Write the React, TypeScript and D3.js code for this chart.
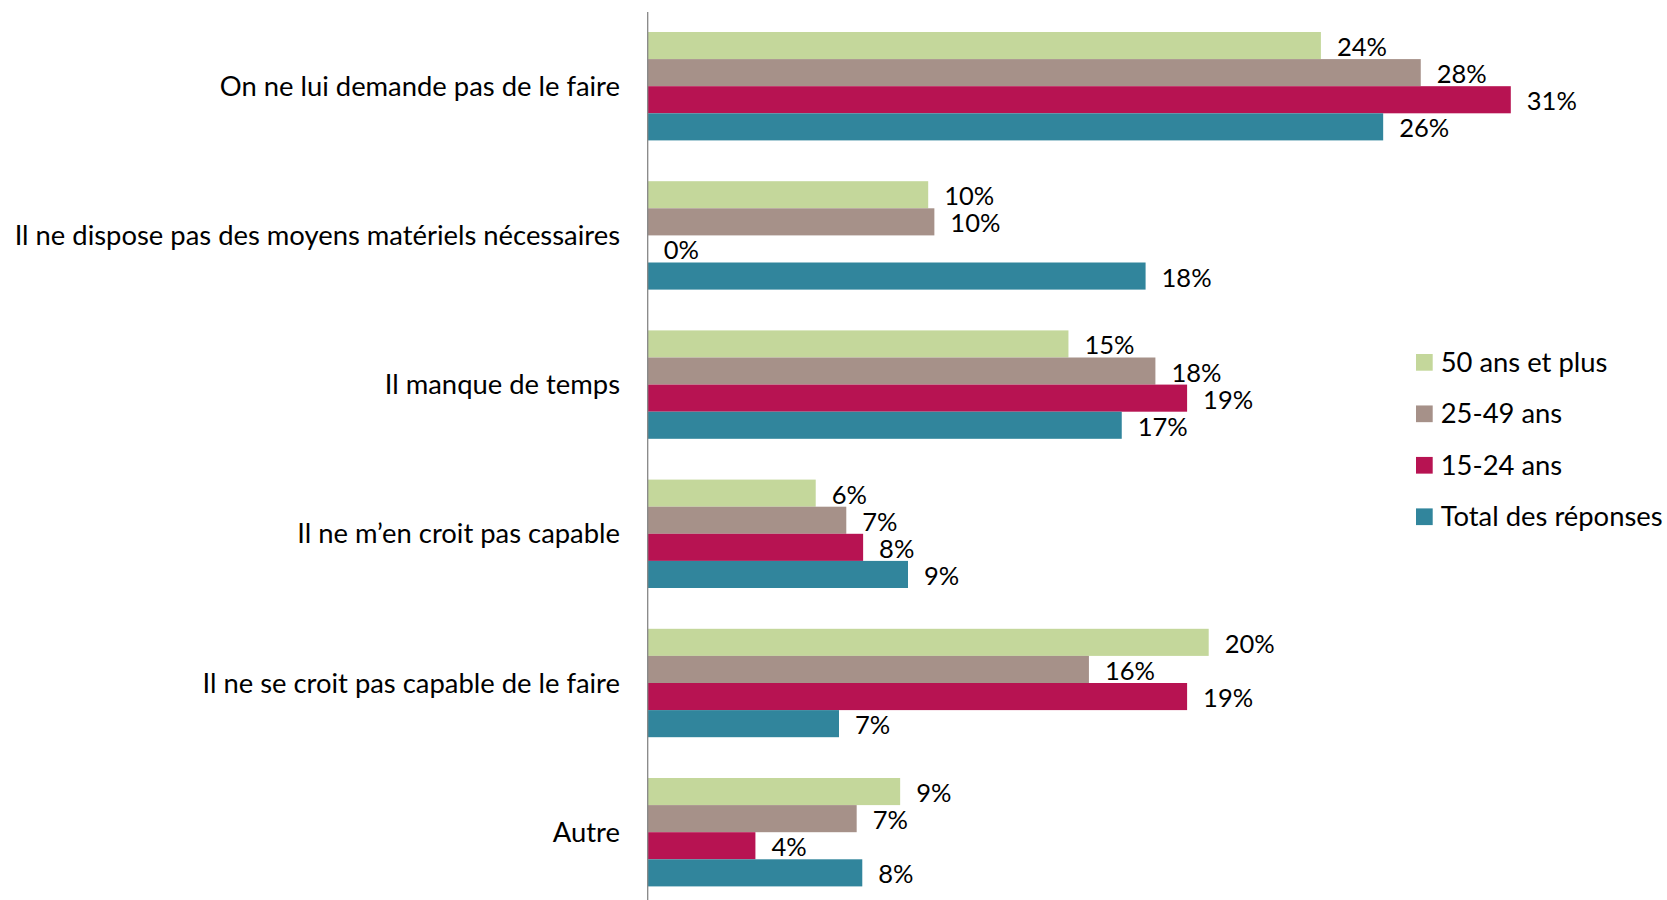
import React from "react";
import * as d3 from "d3";

const categories = [
  "On ne lui demande pas de le faire",
  "Il ne dispose pas des moyens matériels nécessaires",
  "Il manque de temps",
  "Il ne m’en croit pas capable",
  "Il ne se croit pas capable de le faire",
  "Autre",
];

const seriesNames = ["50 ans et plus", "25-49 ans", "15-24 ans", "Total des réponses"];
const seriesColors = ["#C4D79B", "#A69189", "#B71352", "#31859C"];

const plus50 = [24.0, 10.0, 15.0, 5.99, 20.0, 9.0];
const ans25_49 = [27.56, 10.22, 18.1, 7.08, 15.73, 7.45];
const ans15_24 = [30.77, 0, 19.23, 7.68, 19.23, 3.84];
const total = [26.22, 17.75, 16.9, 9.28, 6.82, 7.65];

const seriesValues = [plus50, ans25_49, ans15_24, total];

const FONT = "Lato, 'Open Sans', sans-serif";
const FS_VAL = 25.5;
const FS_TXT = 27.4;

export default function App() {
  const W = 1667;
  const H = 900;
  const axisX = 647.7;

  const x = d3.scaleLinear().domain([0, 35]).range([axisX, axisX + 35 * 28.05]);
  const y0 = d3.scaleBand<string>().domain(categories).range([11.6, 906.8]).padding(0);
  const y1 = d3.scaleBand<string>().domain(seriesNames).range([20.4, 128.8]).padding(0);

  const legendY = d3.scaleLinear().domain([0, 3]).range([362.3, 516.7]);

  return (
    <svg
      width={W}
      height={H}
      style={{ position: "absolute", left: 0, top: 0, background: "#fff" }}
      fontFamily={FONT}
    >
      <rect x={0} y={0} width={W} height={H} fill="#fff" />
      {categories.map((c, ci) => {
        const gy = y0(c)!;
        return (
          <g key={c}>
            <text
              x={620}
              y={gy + y0.bandwidth() / 2 + 9.5}
              textAnchor="end"
              fontSize={FS_TXT}
              fill="#000"
            >
              {c}
            </text>
            {seriesNames.map((s, si) => {
              const v = seriesValues[si][ci];
              const by = gy + y1(s)!;
              const bh = y1.bandwidth();
              return (
                <g key={s}>
                  <rect
                    x={x(0)}
                    y={by}
                    width={x(v) - x(0)}
                    height={bh}
                    fill={seriesColors[si]}
                  />
                  <text
                    x={x(v) + 16}
                    y={by + bh / 2 + 10.5}
                    fontSize={FS_VAL}
                    fill="#000"
                  >
                    {Math.round(v) + "%"}
                  </text>
                </g>
              );
            })}
          </g>
        );
      })}
      <line x1={axisX} x2={axisX} y1={12} y2={H} stroke="#868686" strokeWidth={1.3} />
      {seriesNames.map((s, si) => {
        const cy = legendY(si);
        return (
          <g key={s}>
            <rect x={1416} y={cy - 8.3} width={16.7} height={16.7} fill={seriesColors[si]} />
            <text x={1440.7} y={cy + 9.5} fontSize={FS_TXT} fill="#000">
              {s}
            </text>
          </g>
        );
      })}
    </svg>
  );
}
